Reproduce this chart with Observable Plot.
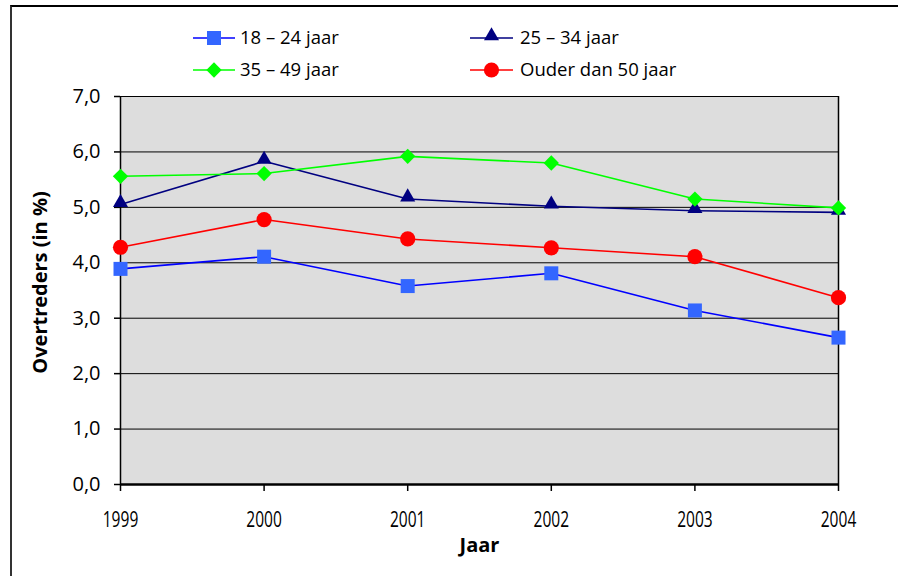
<!DOCTYPE html>
<html>
<head>
<meta charset="utf-8">
<script src="https://cdn.jsdelivr.net/npm/d3@7"></script>
<script src="https://cdn.jsdelivr.net/npm/@observablehq/plot@0.6"></script>
<style>
  html, body { margin: 0; padding: 0; background: #fff; }
  #wrap { position: relative; width: 898px; height: 576px; overflow: hidden; background: #fff; font-family: "Open Sans", sans-serif; }
  #border { position: absolute; left: 10px; top: 5px; width: 1000px; height: 1000px; border-left: 2px solid #333; border-top: 2px solid #000; }
  #legend { position: absolute; left: 0; top: 0; }
  #chart { position: absolute; left: 0; top: 80px; }
</style>
</head>
<body>
<div id="wrap">
  <div id="border"></div>
  <div id="legend"></div>
  <div id="chart"></div>
</div>
<script>
const years = [1999, 2000, 2001, 2002, 2003, 2004];
const s1824 = [3.89, 4.11, 3.58, 3.81, 3.14, 2.65];
const s2534 = [5.05, 5.83, 5.15, 5.02, 4.94, 4.91];
const s3549 = [5.56, 5.61, 5.92, 5.80, 5.15, 4.99];
const s50   = [4.28, 4.78, 4.43, 4.27, 4.11, 3.37];
const seriesNames = ["18 – 24 jaar", "25 – 34 jaar", "35 – 49 jaar", "Ouder dan 50 jaar"];
const yTicks = [0, 1, 2, 3, 4, 5, 6, 7];
const xTitle = "Jaar";
const yTitle = "Overtreders (in %)";

const series = [
  {name: seriesNames[0], values: s1824, line: "#0000ff", fill: "#3366ff", symbol: "square", r: 7.9, dsym: d3.symbolSquare, dy: 0},
  {name: seriesNames[1], values: s2534, line: "#000080", fill: "#000080", symbol: "triangle", r: 5.6, dsym: d3.symbolTriangle, dy: -2},
  {name: seriesNames[2], values: s3549, line: "#00ff00", fill: "#00ff00", symbol: "diamond2", r: 6.9, dsym: d3.symbolDiamond2, dy: 0},
  {name: seriesNames[3], values: s50, line: "#ff0000", fill: "#ff0000", symbol: "circle", r: 7.6, dsym: d3.symbolCircle, dy: 0}
];

const fmt = d => d.toFixed(1).replace(".", ",");

const marks = [
  Plot.frame({fill: "#dddddd"}),
  Plot.ruleY(yTicks.filter(d => d > 0), {stroke: "#000", strokeWidth: 1}),
  Plot.ruleX([2004], {stroke: "#000", strokeWidth: 1.5}),
  Plot.axisY({ticks: yTicks, tickSize: 6, tickPadding: 14, tickFormat: fmt, label: null, fontSize: 20, stroke: "#000", strokeWidth: 1.5}),
  Plot.axisX({ticks: years, tickSize: 7, tickPadding: 21, tickFormat: d => String(d), label: null, fontSize: 21, stroke: "#000", strokeWidth: 1.5}),
  Plot.ruleX([1999], {stroke: "#000", strokeWidth: 1.5}),
  Plot.ruleY([0], {stroke: "#000", strokeWidth: 2.5})
];
for (const s of series) {
  const data = years.map((y, i) => ({year: y, value: s.values[i]}));
  marks.push(Plot.line(data, {x: "year", y: "value", stroke: s.line, strokeWidth: 1.6}));
  marks.push(Plot.dot(data, {x: "year", y: "value", symbol: () => s.symbol, r: s.r, fill: s.fill, stroke: "none", dy: s.dy}));
}
marks.push(Plot.text([yTitle], {frameAnchor: "left", textAnchor: "middle", text: d => d, rotate: -90, dx: -80, dy: -8, fontWeight: "bold", fontSize: 20, fill: "#000"}));
marks.push(Plot.text([xTitle], {frameAnchor: "bottom", text: d => d, dy: 67, fontWeight: "bold", fontSize: 20, fill: "#000"}));

const chart = Plot.plot({
  width: 898,
  height: 496,
  marginTop: 16,
  marginLeft: 120,
  marginRight: 60,
  marginBottom: 92,
  style: {fontFamily: "Open Sans", color: "#000", background: "transparent", overflow: "visible"},
  x: {domain: [1999, 2004]},
  y: {domain: [0, 7]},
  marks
});
document.getElementById("chart").appendChild(chart);

// condense x tick labels horizontally (as in the reference)
d3.select(chart).selectAll('g[aria-label="x-axis tick label"] text').each(function() {
  const el = d3.select(this);
  const t = el.attr("transform");
  if (t) el.attr("transform", t + " scale(0.74,1)");
  else {
    const x = +el.attr("x") || 0, y = +el.attr("y") || 0;
    el.attr("x", null).attr("y", null).attr("transform", `translate(${x},${y}) scale(0.74,1)`);
  }
});

// legend
const leg = d3.select("#legend").append("svg").attr("width", 898).attr("height", 90);
const pos = [
  {x1: 193, x2: 235, y: 38, tx: 240},
  {x1: 470, x2: 513, y: 38, tx: 520},
  {x1: 193, x2: 235, y: 70, tx: 240},
  {x1: 470, x2: 513, y: 70, tx: 520}
];
series.forEach((s, i) => {
  const p = pos[i];
  const g = leg.append("g");
  g.append("line").attr("x1", p.x1).attr("x2", p.x2).attr("y1", p.y).attr("y2", p.y).attr("stroke", s.line).attr("stroke-width", 1.6);
  g.append("path").attr("d", d3.symbol().type(s.dsym).size(Math.PI * s.r * s.r)())
    .attr("transform", `translate(${(p.x1 + p.x2) / 2},${p.y + s.dy})`).attr("fill", s.fill);
  g.append("text").attr("x", p.tx).attr("y", p.y).attr("dy", "0.35em").attr("font-family", "Open Sans").attr("font-size", 18.5).attr("fill", "#000").text(s.name);
});
</script>
</body>
</html>
